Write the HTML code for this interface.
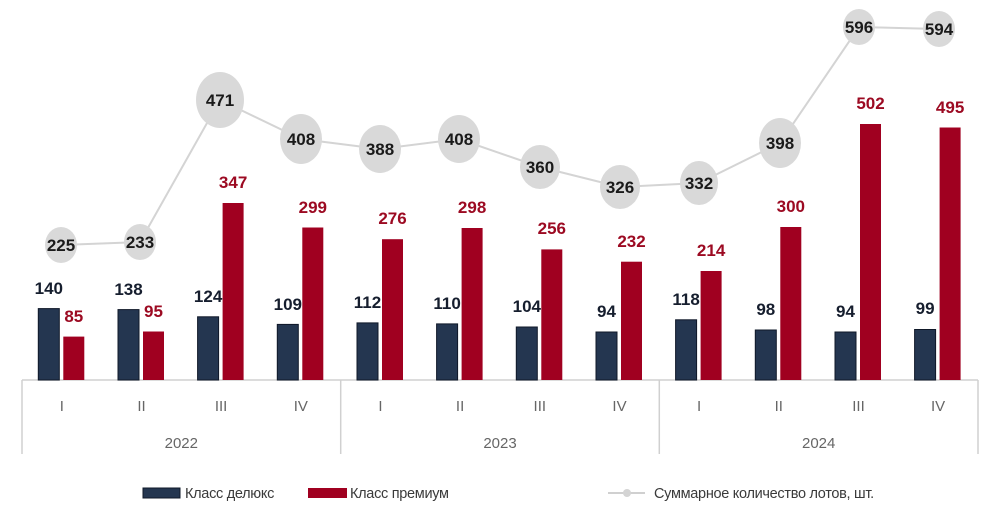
<!DOCTYPE html>
<html><head><meta charset="utf-8"><style>
html,body{margin:0;padding:0;background:#fff;}
svg{display:block;}
.nv{font:bold 17px "Liberation Sans",sans-serif;fill:#161e2e;text-anchor:middle;}
.rd{font:bold 17px "Liberation Sans",sans-serif;fill:#9c0a22;text-anchor:middle;}
.ln{font:bold 17px "Liberation Sans",sans-serif;fill:#1a1a1a;text-anchor:middle;}
.q{font:15px "Liberation Sans",sans-serif;fill:#666;text-anchor:middle;}
.lg{font:14.5px "Liberation Sans",sans-serif;fill:#3a3a3a;letter-spacing:-0.3px;}
</style></head><body>
<svg width="1000" height="515" viewBox="0 0 1000 515" xmlns="http://www.w3.org/2000/svg">
<!-- axis -->
<g stroke="#d0d0d0" stroke-width="1.5" fill="none">
<line x1="22" y1="380" x2="978" y2="380"/>
<line x1="22" y1="380" x2="22" y2="454"/>
<line x1="340.7" y1="380" x2="340.7" y2="454"/>
<line x1="659.3" y1="380" x2="659.3" y2="454"/>
<line x1="978" y1="380" x2="978" y2="454"/>
</g>
<!-- navy bars -->
<g fill="#243650" stroke="#0f1828" stroke-width="1">
<rect x="38.3" y="308.6" width="21" height="71.4"/>
<rect x="118" y="309.6" width="21" height="70.4"/>
<rect x="197.6" y="316.8" width="21" height="63.2"/>
<rect x="277.3" y="324.4" width="21" height="55.6"/>
<rect x="357" y="322.9" width="21" height="57.1"/>
<rect x="436.6" y="323.9" width="21" height="56.1"/>
<rect x="516.3" y="327" width="21" height="53"/>
<rect x="596" y="332" width="21" height="48"/>
<rect x="675.6" y="319.8" width="21" height="60.2"/>
<rect x="755.3" y="330" width="21" height="50"/>
<rect x="835" y="332" width="21" height="48"/>
<rect x="914.6" y="329.5" width="21" height="50.5"/>
</g>
<!-- red bars -->
<g fill="#a00020">
<rect x="63.3" y="336.6" width="21" height="43.4"/>
<rect x="143" y="331.5" width="21" height="48.5"/>
<rect x="222.6" y="203" width="21" height="177"/>
<rect x="302.3" y="227.5" width="21" height="152.5"/>
<rect x="382" y="239.2" width="21" height="140.8"/>
<rect x="461.6" y="228" width="21" height="152"/>
<rect x="541.3" y="249.4" width="21" height="130.6"/>
<rect x="621" y="261.7" width="21" height="118.3"/>
<rect x="700.6" y="271" width="21" height="109"/>
<rect x="780.3" y="227" width="21" height="153"/>
<rect x="860" y="124" width="21" height="256"/>
<rect x="939.6" y="127.5" width="21" height="252.5"/>
</g>
<!-- navy labels -->
<g class="nv">
<text x="48.8" y="294">140</text>
<text x="128.5" y="295">138</text>
<text x="208.1" y="302">124</text>
<text x="287.8" y="310">109</text>
<text x="367.5" y="308">112</text>
<text x="447.1" y="309">110</text>
<text x="526.8" y="312">104</text>
<text x="606.5" y="317">94</text>
<text x="686.1" y="305">118</text>
<text x="765.8" y="315">98</text>
<text x="845.5" y="317">94</text>
<text x="925.1" y="314">99</text>
</g>
<!-- red labels -->
<g class="rd">
<text x="73.8" y="322">85</text>
<text x="153.5" y="317">95</text>
<text x="233.1" y="188">347</text>
<text x="312.8" y="213">299</text>
<text x="392.5" y="224">276</text>
<text x="472.1" y="213">298</text>
<text x="551.8" y="234">256</text>
<text x="631.5" y="247">232</text>
<text x="711.1" y="256">214</text>
<text x="790.8" y="212">300</text>
<text x="870.5" y="109">502</text>
<text x="950.1" y="113">495</text>
</g>
<!-- line -->
<polyline fill="none" stroke="#d4d4d4" stroke-width="2" points="61,245 140,242 220,100 301,139 380,149 459,139 540,167 620,187 699,183 780,143 859,27 939,29"/>
<g fill="#d9d9d9">
<ellipse cx="61" cy="245" rx="16" ry="18"/>
<ellipse cx="140" cy="242" rx="16" ry="18"/>
<ellipse cx="220" cy="100" rx="24" ry="28"/>
<ellipse cx="301" cy="139" rx="21" ry="25"/>
<ellipse cx="380" cy="149" rx="21" ry="24"/>
<ellipse cx="459" cy="139" rx="21" ry="24"/>
<ellipse cx="540" cy="167" rx="20" ry="22"/>
<ellipse cx="620" cy="187" rx="20" ry="22"/>
<ellipse cx="699" cy="183" rx="19" ry="22"/>
<ellipse cx="780" cy="143" rx="21" ry="25"/>
<ellipse cx="859" cy="27" rx="16" ry="18"/>
<ellipse cx="939" cy="29" rx="16" ry="18"/>
</g>
<g class="ln">
<text x="61" y="251">225</text>
<text x="140" y="248">233</text>
<text x="220" y="106">471</text>
<text x="301" y="145">408</text>
<text x="380" y="155">388</text>
<text x="459" y="145">408</text>
<text x="540" y="173">360</text>
<text x="620" y="193">326</text>
<text x="699" y="189">332</text>
<text x="780" y="149">398</text>
<text x="859" y="33">596</text>
<text x="939" y="35">594</text>
</g>
<!-- quarter labels -->
<g class="q">
<text x="61.8" y="411">I</text>
<text x="141.5" y="411">II</text>
<text x="221.1" y="411">III</text>
<text x="300.8" y="411">IV</text>
<text x="380.5" y="411">I</text>
<text x="460.1" y="411">II</text>
<text x="539.8" y="411">III</text>
<text x="619.5" y="411">IV</text>
<text x="699.1" y="411">I</text>
<text x="778.8" y="411">II</text>
<text x="858.5" y="411">III</text>
<text x="938.1" y="411">IV</text>
<text x="181.3" y="448">2022</text>
<text x="500" y="448">2023</text>
<text x="818.7" y="448">2024</text>
</g>
<!-- legend -->
<rect x="143" y="488" width="37" height="10" fill="#243650" stroke="#0f1828" stroke-width="1"/>
<text class="lg" x="185" y="498">Класс делюкс</text>
<rect x="308" y="488" width="39" height="10" fill="#a00020"/>
<text class="lg" x="350" y="498">Класс премиум</text>
<line x1="608" y1="493" x2="645" y2="493" stroke="#d0d0d0" stroke-width="2"/>
<circle cx="627" cy="493" r="4" fill="#d4d4d4"/>
<text class="lg" x="654" y="498">Суммарное количество лотов, шт.</text>
</svg>
</body></html>
